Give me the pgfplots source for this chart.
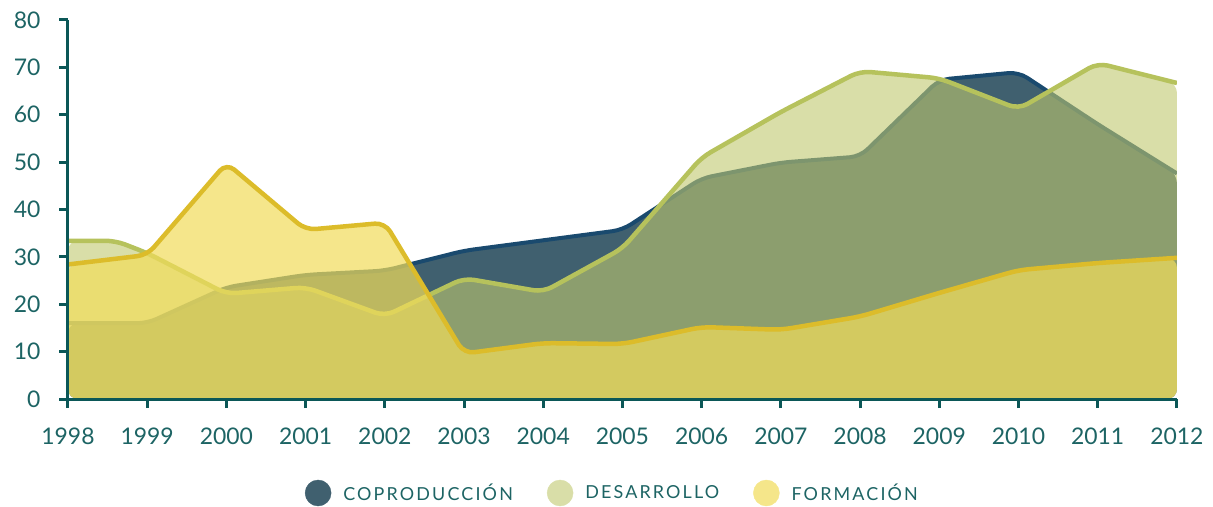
\documentclass[border=0pt]{standalone}
\usepackage{fontspec}
\setmainfont{Lato}
\newfontfamily\legfont[LetterSpace=12]{Lato}
\usepackage{pgfplots}
\pgfplotsset{compat=1.18}
\definecolor{copfill}{HTML}{40606F}
\definecolor{copline}{HTML}{1A4A6E}
\definecolor{desfill}{HTML}{C0C86E}
\definecolor{desline}{HTML}{B6C25C}
\definecolor{desleg}{HTML}{D9DEA8}
\definecolor{formfill}{HTML}{F1DC5B}
\definecolor{formline}{HTML}{DCBC2A}
\definecolor{formleg}{HTML}{F5E68A}
\definecolor{axcol}{HTML}{0B5757}
\definecolor{labcol}{HTML}{1D6464}
\begin{document}
\begin{tikzpicture}
\path[use as bounding box] (-68bp,-108bp) rectangle (1145bp,399bp);
\begin{axis}[
  scale only axis, width=1109bp, height=379bp,
  xmin=1998, xmax=2012, ymin=0, ymax=80,
  enlargelimits=false,
  axis x line*=bottom, axis y line*=left,
  axis on top,
  xtick={1998,1999,...,2012}, ytick={0,10,...,80},
  tick align=outside, major tick length=9bp,
  tick style={line width=3bp, color=axcol},
  axis line style={line width=3bp, color=axcol},
  ticklabel style={font=\fontsize{23}{23}\selectfont, text=labcol},
  xticklabel style={yshift=-16bp},
  yticklabel style={xshift=-15bp},
  /pgf/number format/assume math mode=true,
  /pgf/number format/1000 sep={},
  legend style={at={(0.49,-0.248)}, anchor=center, draw=none, fill=none,
    font=\legfont\fontsize{18}{18}\selectfont, text=labcol,
    nodes={inner sep=0bp},
    /tikz/every even column/.append style={column sep=34bp},
    /tikz/every odd column/.append style={column sep=12bp}},
  legend columns=3,
]
% COPRODUCCION
\addplot[draw=none, fill=copfill, rounded corners=10bp, forget plot] coordinates {
(1998,16) (1999,16) (2000,23.6) (2001,26.2) (2002,27.1) (2003,31.3) (2004,33.5) (2005,35.7)
(2006,46.6) (2007,49.9) (2008,51.2) (2009,67.4) (2010,69.0) (2011,58.0) (2012,47.6)} \closedcycle;
\addplot[draw=copline, line width=4bp, rounded corners=10bp, forget plot] coordinates {
(1998,16) (1999,16) (2000,23.6) (2001,26.2) (2002,27.1) (2003,31.3) (2004,33.5) (2005,35.7)
(2006,46.6) (2007,49.9) (2008,51.2) (2009,67.4) (2010,69.0) (2011,58.0) (2012,47.6)};
% DESARROLLO
\addplot[draw=none, fill=desfill, fill opacity=0.6, rounded corners=10bp, forget plot] coordinates {
(1998,33.4) (1998.6,33.4) (1999,30.8) (2000,22.2) (2001,23.6) (2002,17.5) (2003,25.5) (2004,22.6)
(2005,31.8) (2006,51.0) (2007,60.6) (2008,69.2) (2009,67.7) (2010,61.2) (2011,70.9) (2012,66.7)} \closedcycle;
\addplot[draw=desline, line width=4.5bp, rounded corners=10bp, forget plot] coordinates {
(1998,33.4) (1998.6,33.4) (1999,30.8) (2000,22.2) (2001,23.6) (2002,17.5) (2003,25.5) (2004,22.6)
(2005,31.8) (2006,51.0) (2007,60.6) (2008,69.2) (2009,67.7) (2010,61.2) (2011,70.9) (2012,66.7)};
% FORMACION
\addplot[draw=none, fill=formfill, fill opacity=0.71, rounded corners=10bp, forget plot] coordinates {
(1998,28.4) (1999,30.4) (2000,49.8) (2001,35.7) (2002,37.2) (2003,9.6) (2004,11.8) (2005,11.6)
(2006,15.2) (2007,14.6) (2008,17.4) (2009,22.4) (2010,27.2) (2011,28.7) (2012,29.8)} \closedcycle;
\addplot[draw=formline, line width=4.5bp, rounded corners=10bp, forget plot] coordinates {
(1998,28.4) (1999,30.4) (2000,49.8) (2001,35.7) (2002,37.2) (2003,9.6) (2004,11.8) (2005,11.6)
(2006,15.2) (2007,14.6) (2008,17.4) (2009,22.4) (2010,27.2) (2011,28.7) (2012,29.8)};
\addlegendimage{legend image code/.code={\fill[copfill] (0bp,0bp) circle (13bp);}}
\addlegendentry{COPRODUCCIÓN}
\addlegendimage{legend image code/.code={\fill[desleg] (0bp,0bp) circle (13bp);}}
\addlegendentry{DESARROLLO}
\addlegendimage{legend image code/.code={\fill[formleg] (0bp,0bp) circle (13bp);}}
\addlegendentry{FORMACIÓN}
\end{axis}
\end{tikzpicture}
\end{document}
